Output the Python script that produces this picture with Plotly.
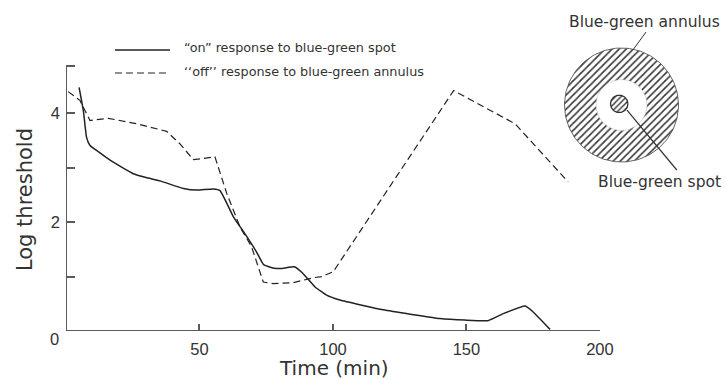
import numpy as np
import plotly.graph_objects as go

# ---- data ----
on_time = [4.9, 6.5, 7.7, 9.0, 12.0, 16.5, 25.2, 30.0, 35.2, 44.0, 49.0, 55.2, 57.7,
           62.7, 67.0, 71.4, 74.0, 77.5, 81.0, 85.5, 88.5, 93.3, 97.6, 102.6, 118.8,
           140.0, 149.4, 158.1, 163.8, 172.0, 175.0, 181.3]
on_log = [4.48, 4.05, 3.56, 3.41, 3.30, 3.14, 2.89, 2.82, 2.76, 2.62, 2.59, 2.61, 2.58,
          2.10, 1.79, 1.45, 1.22, 1.16, 1.15, 1.18, 1.07, 0.81, 0.66, 0.57, 0.39,
          0.23, 0.20, 0.19, 0.32, 0.46, 0.35, 0.03]

off_time = [0.8, 5.2, 9.0, 15.8, 26.5, 37.7, 42.7, 47.7, 55.8, 60.2, 65.2, 69.5,
            73.9, 77.7, 85.2, 92.7, 95.8, 100.1, 145.2, 168.2, 188.1]
off_log = [4.40, 4.24, 3.87, 3.91, 3.81, 3.67, 3.44, 3.15, 3.20, 2.53, 1.91, 1.55,
           0.90, 0.87, 0.89, 0.98, 1.00, 1.09, 4.42, 3.81, 2.74]

x_ticks = [50, 100, 150, 200]
x_tick_labels = ["50", "100", "150", "200"]
y_ticks = [1, 2, 3, 4, 4.88]
y_tick_labels = ["", "2", "", "4", ""]

legend_labels = ["\u201con\u201d response to blue-green spot",
                 "\u2018\u2018off\u2019\u2019 response to blue-green annulus"]
x_title = "Time (min)"
y_title = "Log threshold"
annulus_label = "Blue-green annulus"
spot_label = "Blue-green spot"

# diagram geometry (units of outer radius)
OUTER_R = 1.0
INNER_R = 0.447
SPOT_R = 0.153
SPOT_C = (-0.04, 0.02)

LINE = "#222222"
AXIS = "#5a5a5a"
TEXT = "#333333"
FONT = "Liberation Sans"
WIDE = "DejaVu Sans"

fig = go.Figure()

fig.add_trace(go.Scatter(x=on_time, y=on_log, mode="lines",
                         line=dict(color=LINE, width=1.5, shape="spline", smoothing=0.4),
                         showlegend=False, hoverinfo="skip"))
fig.add_trace(go.Scatter(x=off_time, y=off_log, mode="lines",
                         line=dict(color=LINE, width=1.2, dash="7px,4px"),
                         showlegend=False, hoverinfo="skip"))

# ---- diagram ----
th = np.linspace(0, 2 * np.pi, 181)
pat = dict(shape="/", fgcolor="#333333", bgcolor="white", size=5, solidity=0.3)
fig.add_trace(go.Scatter(x=OUTER_R * np.cos(th), y=OUTER_R * np.sin(th), xaxis="x2", yaxis="y2",
                         mode="lines", fill="toself", fillpattern=pat, fillcolor="white",
                         line=dict(color="#555555", width=0.9), showlegend=False, hoverinfo="skip"))
fig.add_trace(go.Scatter(x=INNER_R * np.cos(th), y=INNER_R * np.sin(th), xaxis="x2", yaxis="y2",
                         mode="lines", fill="toself", fillcolor="white",
                         line=dict(color="#bbbbbb", width=0.5), showlegend=False, hoverinfo="skip"))
fig.add_trace(go.Scatter(x=SPOT_C[0] + SPOT_R * np.cos(th), y=SPOT_C[1] + SPOT_R * np.sin(th),
                         xaxis="x2", yaxis="y2", mode="lines", fill="toself",
                         fillpattern=dict(shape="/", fgcolor="#333333", bgcolor="white", size=4, solidity=0.35),
                         fillcolor="white", line=dict(color="#333333", width=1.3),
                         showlegend=False, hoverinfo="skip"))

shapes = [
    # axis lines
    dict(type="line", xref="x", yref="y", x0=0, x1=200, y0=0, y1=0, line=dict(color=AXIS, width=2)),
    dict(type="line", xref="x", yref="y", x0=0, x1=0, y0=0, y1=4.88, line=dict(color=AXIS, width=2)),
    # legend samples
    dict(type="line", xref="paper", yref="paper", x0=0.0742, x1=0.1576, y0=0.9035, y1=0.9035,
         line=dict(color=LINE, width=1.5)),
    dict(type="line", xref="paper", yref="paper", x0=0.0742, x1=0.1576, y0=0.8296, y1=0.8296,
         line=dict(color=LINE, width=1.2, dash="7px,4px")),
    # diagram pointers
    dict(type="line", xref="x2", yref="y2", x0=0.43, y0=1.28, x1=0.20, y1=0.965,
         line=dict(color="#333333", width=1)),
    dict(type="line", xref="x2", yref="y2", x0=0.096, y0=-0.088, x1=0.97, y1=-1.14,
         line=dict(color="#333333", width=1.2)),
]

annotations = [
    dict(text=legend_labels[0], xref="paper", yref="paper", x=0.1758, y=0.910,
         xanchor="left", yanchor="middle", showarrow=False, font=dict(size=12.8, color=TEXT, family=WIDE)),
    dict(text=legend_labels[1], xref="paper", yref="paper", x=0.1758, y=0.836,
         xanchor="left", yanchor="middle", showarrow=False, font=dict(size=12.8, color=TEXT, family=WIDE)),
    dict(text=y_title, xref="paper", yref="paper", x=-0.0621, y=0.421, textangle=-90,
         xanchor="center", yanchor="middle", showarrow=False, font=dict(size=21, color=TEXT, family=WIDE)),
    dict(text=x_title, xref="paper", yref="paper", x=0.406, y=-0.1190,
         xanchor="center", yanchor="middle", showarrow=False, font=dict(size=20, color=TEXT, family=WIDE)),
    dict(text="0", xref="paper", yref="paper", x=-0.0167, y=-0.0257,
         xanchor="center", yanchor="middle", showarrow=False, font=dict(size=16.5, color=TEXT, family=FONT)),
    dict(text=annulus_label, xref="x2", yref="y2", x=0.41, y=1.456,
         xanchor="center", yanchor="middle", showarrow=False, font=dict(size=15.5, color=TEXT, family=WIDE)),
    dict(text=spot_label, xref="x2", yref="y2", x=0.667, y=-1.35,
         xanchor="center", yanchor="middle", showarrow=False, font=dict(size=15.5, color=TEXT, family=WIDE)),
]

fig.update_layout(
    template="none",
    width=726, height=380, autosize=False,
    margin=dict(l=66, r=0, t=20, b=49, pad=0),
    paper_bgcolor="white", plot_bgcolor="rgba(0,0,0,0)",
    font=dict(family=FONT, color=TEXT),
    showlegend=False,
    xaxis=dict(domain=[0, 0.809], range=[0, 200], showline=False, showgrid=False, zeroline=False,
               automargin=False,
               tickmode="array", tickvals=x_ticks, ticktext=x_tick_labels,
               ticks="inside", ticklen=7, tickwidth=1.5, tickcolor=AXIS, ticklabelstandoff=6,
               tickfont=dict(size=16.5, color=TEXT, family=FONT)),
    yaxis=dict(domain=[0, 1], range=[0, 5.717], showline=False, showgrid=False, zeroline=False,
               automargin=False,
               tickmode="array", tickvals=y_ticks, ticktext=y_tick_labels,
               ticks="inside", ticklen=9, tickwidth=1.5, tickcolor=AXIS, ticklabelstandoff=5,
               tickfont=dict(size=16.5, color=TEXT, family=FONT)),
    xaxis2=dict(domain=[0.70, 1.0], range=[-1.640, 1.833], anchor="y2", visible=False, automargin=False),
    yaxis2=dict(domain=[0.40, 1.0], range=[-1.782, 1.491], anchor="x2", visible=False, automargin=False),
    shapes=shapes,
    annotations=annotations,
)

fig.write_html("out.html", config={"displayModeBar": False, "responsive": False},
               post_script="document.body.style.margin='0px';")
